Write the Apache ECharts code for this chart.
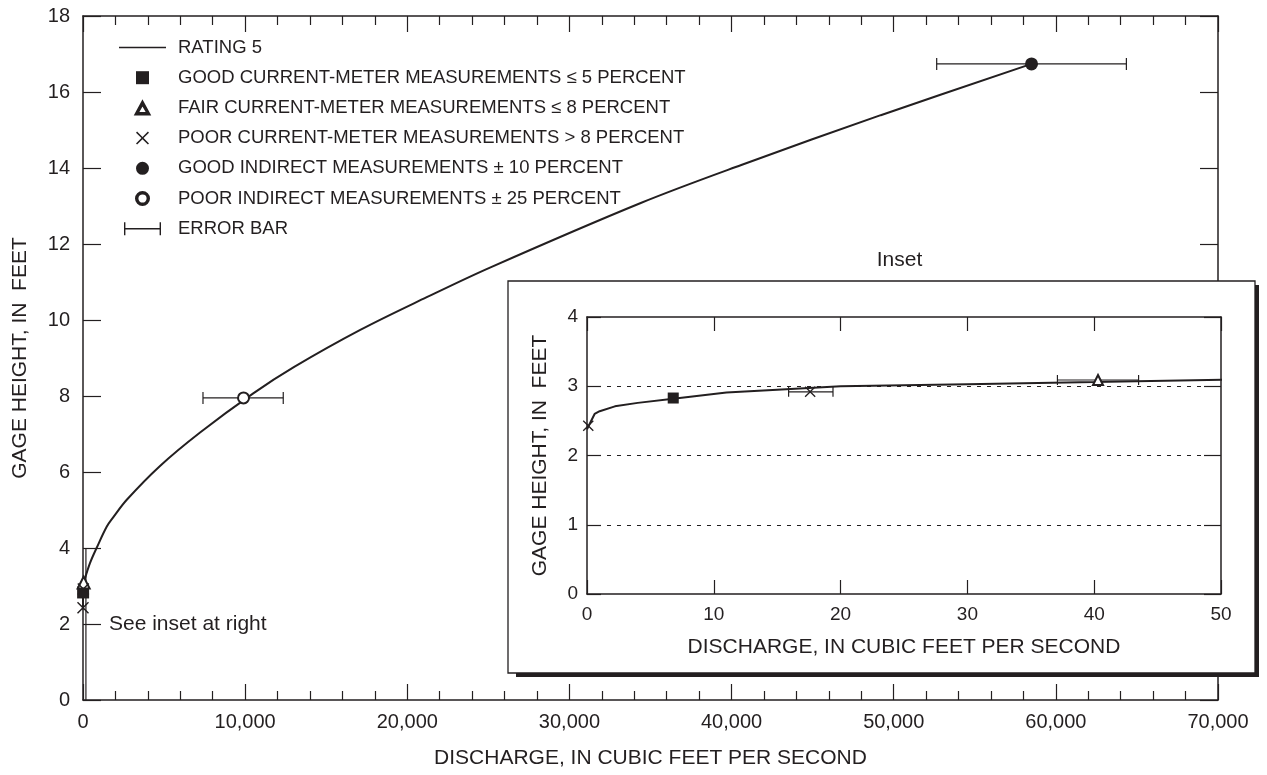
<!DOCTYPE html>
<html>
<head>
<meta charset="utf-8">
<script src="https://cdn.jsdelivr.net/npm/echarts@6/dist/echarts.min.js"></script>
<style>
html,body{margin:0;padding:0;background:#fff;}
#chart{width:1267px;height:775px;}
</style>
</head>
<body>
<div id="chart"></div>
<script>
// ---------- DATA ----------
const mainXTickLabels = ['0', '10,000', '20,000', '30,000', '40,000', '50,000', '60,000', '70,000'];
const mainYTickLabels = ['0', '2', '4', '6', '8', '10', '12', '14', '16', '18'];
const insetXTickLabels = ['0', '10', '20', '30', '40', '50'];
const insetYTickLabels = ['0', '1', '2', '3', '4'];

// Rating 5 curve: [discharge (cfs), gage height (ft)]
const rating = [
  [0, 2.38], [0.6, 2.6], [1, 2.64], [2.2, 2.71], [4, 2.76], [6.8, 2.82],
  [11, 2.91], [15, 2.95], [20, 3.0], [30, 3.03], [40, 3.06], [51.5, 3.1],
  [430, 3.6], [860, 4.02], [1460, 4.56], [1850, 4.8], [2700, 5.27],
  [4750, 6.16], [7220, 7.04], [10500, 8.07], [13000, 8.76], [17100, 9.74],
  [21200, 10.6], [25100, 11.38], [34400, 13.08], [40600, 14.08],
  [49200, 15.39], [58500, 16.74]
];
const goodCurrent = [[6.8, 2.83]];
const fairCurrent = [[40.3, 3.09]];
const poorCurrent = [[0.1, 2.43], [17.6, 2.92]];
const goodIndirect = [[58500, 16.74]];
const poorIndirect = [[9900, 7.95]];
// error bars: [low discharge, high discharge, gage height]
const errorBars = [
  [52650, 64350, 16.74], [7400, 12350, 7.95],
  [6.46, 7.14, 2.83], [15.9, 19.4, 2.92], [37.1, 43.5, 3.09]
];
// outline of inset region on main chart
const insetRegion = [[180, 0], [180, 4]];
const insetMaxQ = 52;

// ---------- STYLE ----------
const INK = '#231f20';
const FONT = 'Liberation Sans, Arial, Helvetica, sans-serif';
const NAMES = {
  rating: 'RATING 5',
  good: 'GOOD CURRENT-METER MEASUREMENTS \u2264 5 PERCENT',
  fair: 'FAIR CURRENT-METER MEASUREMENTS \u2264 8 PERCENT',
  poor: 'POOR CURRENT-METER MEASUREMENTS > 8 PERCENT',
  gind: 'GOOD INDIRECT MEASUREMENTS \u00b1 10 PERCENT',
  pind: 'POOR INDIRECT MEASUREMENTS \u00b1 25 PERCENT',
  err: 'ERROR BAR'
};
const X_PATH = 'path://M1,0L6,5L11,0L12,1L7,6L12,11L11,12L6,7L1,12L0,11L5,6L0,1Z';
const ERR_PATH = 'path://M0,0h1.4v13h-1.4zM0,5.8h37v1.4h-37zM35.6,0h1.4v13h-1.4z';
const LINE_PATH = 'path://M0,0h47v1.6h-47z';
const SQUARE_PATH = 'path://M0,0h12v12h-12z';
const TRI_PATH = 'path://M6,0L12,11L0,11ZM6,2.7L1.9,9.8L10.1,9.8Z';
const RING_PATH = 'path://M6,0A6,6 0 1,1 5.99,0ZM6,1.3A4.7,4.7 0 1,0 6.01,1.3Z';
const DOT_PATH = 'path://M6,0A6,6 0 1,1 5.99,0Z';

function errRender(cap) {
  return function (params, api) {
    const y = api.value(2);
    const a = api.coord([api.value(0), y]);
    const b = api.coord([api.value(1), y]);
    const st = { stroke: INK, lineWidth: 1.2, fill: null };
    return {
      type: 'group',
      children: [
        { type: 'line', shape: { x1: a[0], y1: a[1], x2: b[0], y2: b[1] }, style: st },
        { type: 'line', shape: { x1: a[0], y1: a[1] - cap / 2, x2: a[0], y2: a[1] + cap / 2 }, style: st },
        { type: 'line', shape: { x1: b[0], y1: b[1] - cap / 2, x2: b[0], y2: b[1] + cap / 2 }, style: st }
      ]
    };
  };
}

function axisBase(extra) {
  return Object.assign({
    type: 'value',
    axisLine: { show: true, onZero: false, lineStyle: { color: INK, width: 1.5 } },
    axisTick: { show: true, inside: true, lineStyle: { color: INK, width: 1.2 } },
    splitLine: { show: false },
    axisLabel: { color: INK, fontFamily: FONT },
    nameTextStyle: { color: INK, fontFamily: FONT, fontSize: 21 }
  }, extra);
}

const chart = echarts.init(document.getElementById('chart'), null, { renderer: 'canvas' });

const solid = { color: INK, opacity: 1 };
const hollow = { color: INK, borderColor: INK, borderWidth: 1.3, opacity: 1 };

const series = [
  // ----- main chart -----
  { type: 'line', name: NAMES.rating, xAxisIndex: 0, yAxisIndex: 0, data: rating,
    symbol: 'none', smooth: 0.35, lineStyle: { color: INK, width: 2 },
    itemStyle: solid, z: 2 },
  { type: 'line', name: 'inset region', xAxisIndex: 0, yAxisIndex: 0, data: insetRegion,
    symbol: 'none', lineStyle: { color: INK, width: 1.2 }, z: 2 },
  { type: 'custom', name: NAMES.err, xAxisIndex: 0, yAxisIndex: 0, data: errorBars,
    encode: { x: [0, 1], y: 2 }, renderItem: errRender(12), itemStyle: solid, z: 2 },
  { type: 'scatter', name: NAMES.good, xAxisIndex: 0, yAxisIndex: 0, data: goodCurrent,
    symbol: 'rect', symbolSize: 12, itemStyle: solid, z: 3 },
  { type: 'scatter', name: NAMES.fair, xAxisIndex: 0, yAxisIndex: 0, data: fairCurrent,
    symbol: 'emptyTriangle', symbolSize: 12, itemStyle: hollow, z: 3 },
  { type: 'scatter', name: NAMES.poor, xAxisIndex: 0, yAxisIndex: 0, data: poorCurrent,
    symbol: X_PATH, symbolSize: 12, itemStyle: solid, z: 3 },
  { type: 'scatter', name: NAMES.gind, xAxisIndex: 0, yAxisIndex: 0, data: goodIndirect,
    symbol: 'circle', symbolSize: 13, itemStyle: solid, z: 3 },
  { type: 'scatter', name: NAMES.pind, xAxisIndex: 0, yAxisIndex: 0, data: poorIndirect,
    symbol: 'emptyCircle', symbolSize: 11, itemStyle: hollow, z: 3 },

  // ----- inset chart -----
  { type: 'line', name: NAMES.rating, xAxisIndex: 2, yAxisIndex: 2,
    data: rating.filter(p => p[0] <= insetMaxQ),
    symbol: 'none', smooth: false, clip: false, lineStyle: { color: INK, width: 2 },
    itemStyle: solid, z: 61 },
  { type: 'custom', name: NAMES.err, xAxisIndex: 2, yAxisIndex: 2,
    data: errorBars.filter(e => e[1] <= insetMaxQ),
    encode: { x: [0, 1], y: 2 }, renderItem: errRender(10), itemStyle: solid, z: 61 },
  { type: 'scatter', name: NAMES.good, xAxisIndex: 2, yAxisIndex: 2, data: goodCurrent,
    symbol: 'rect', symbolSize: 11, itemStyle: solid, z: 62 },
  { type: 'scatter', name: NAMES.fair, xAxisIndex: 2, yAxisIndex: 2, data: fairCurrent,
    symbol: 'emptyTriangle', symbolSize: 10, itemStyle: hollow, z: 62 },
  { type: 'scatter', name: NAMES.poor, xAxisIndex: 2, yAxisIndex: 2, data: poorCurrent,
    symbol: X_PATH, symbolSize: 11, itemStyle: solid, z: 62 }
];

const option = {
  backgroundColor: '#fff',
  animation: false,
  textStyle: { fontFamily: FONT, color: INK },
  grid: [
    { left: 83, right: 49, top: 16, bottom: 75 },
    { left: 587, right: 46, top: 317, bottom: 181, z: 60 }
  ],
  legend: {
    orient: 'vertical', left: 119, top: 38, padding: 0,
    itemWidth: 47, itemHeight: 13, itemGap: 11.2,
    selectedMode: false,
    itemStyle: { opacity: 1 },
    textStyle: { color: INK, fontFamily: FONT, fontSize: 18.5, lineHeight: 18.8, padding: [0, 0, 0, 7] },
    data: [
      { name: NAMES.rating, icon: LINE_PATH },
      { name: NAMES.good, icon: SQUARE_PATH },
      { name: NAMES.fair, icon: TRI_PATH },
      { name: NAMES.poor, icon: X_PATH },
      { name: NAMES.gind, icon: DOT_PATH },
      { name: NAMES.pind, icon: RING_PATH },
      { name: NAMES.err, icon: ERR_PATH }
    ]
  },
  xAxis: [
    axisBase({ gridIndex: 0, position: 'bottom', min: 0, max: 70000, interval: 10000,
      axisTick: { show: true, inside: true, length: 16, lineStyle: { color: INK, width: 1.2 } },
      minorTick: { show: true, splitNumber: 5, length: 9, lineStyle: { color: INK, width: 1.2 } },
      axisLabel: { color: INK, fontFamily: FONT, fontSize: 20, margin: 12,
        formatter: v => mainXTickLabels[Math.round(v / 10000)] },
      name: 'DISCHARGE, IN CUBIC FEET PER SECOND', nameLocation: 'middle', nameGap: 48 }),
    axisBase({ gridIndex: 0, position: 'top', min: 0, max: 70000, interval: 10000,
      axisTick: { show: true, inside: true, length: 16, lineStyle: { color: INK, width: 1.2 } },
      minorTick: { show: true, splitNumber: 5, length: 9, lineStyle: { color: INK, width: 1.2 } },
      axisLabel: { show: false } }),
    axisBase({ gridIndex: 1, position: 'bottom', min: 0, max: 50, interval: 10, z: 60,
      axisTick: { show: true, inside: true, length: 14, lineStyle: { color: INK, width: 1.2 } },
      axisLabel: { color: INK, fontFamily: FONT, fontSize: 19, margin: 11,
        formatter: v => insetXTickLabels[Math.round(v / 10)] },
      name: 'DISCHARGE, IN CUBIC FEET PER SECOND', nameLocation: 'middle', nameGap: 43 }),
    axisBase({ gridIndex: 1, position: 'top', min: 0, max: 50, interval: 10, z: 60,
      axisTick: { show: true, inside: true, length: 14, lineStyle: { color: INK, width: 1.2 } },
      axisLabel: { show: false } })
  ],
  yAxis: [
    axisBase({ gridIndex: 0, position: 'left', min: 0, max: 18, interval: 2,
      axisTick: { show: true, inside: true, length: 18, lineStyle: { color: INK, width: 1.2 } },
      axisLabel: { color: INK, fontFamily: FONT, fontSize: 20, margin: 13,
        formatter: v => mainYTickLabels[Math.round(v / 2)] },
      name: 'GAGE HEIGHT, IN  FEET', nameLocation: 'middle', nameGap: 52, nameRotate: 90 }),
    axisBase({ gridIndex: 0, position: 'right', min: 0, max: 18, interval: 2,
      axisTick: { show: true, inside: true, length: 18, lineStyle: { color: INK, width: 1.2 } },
      axisLabel: { show: false } }),
    axisBase({ gridIndex: 1, position: 'left', min: 0, max: 4, interval: 1, z: 60,
      axisTick: { show: true, inside: true, length: 14, lineStyle: { color: INK, width: 1.2 } },
      splitLine: { show: true, showMinLine: false, showMaxLine: false,
        lineStyle: { color: INK, width: 1, type: [4, 6] } },
      axisLabel: { color: INK, fontFamily: FONT, fontSize: 19, margin: 9,
        formatter: v => insetYTickLabels[Math.round(v)] },
      name: 'GAGE HEIGHT, IN  FEET', nameLocation: 'middle', nameGap: 36, nameRotate: 90 }),
    axisBase({ gridIndex: 1, position: 'right', min: 0, max: 4, interval: 1, z: 60,
      axisTick: { show: true, inside: true, length: 17, lineStyle: { color: INK, width: 1.2 } },
      axisLabel: { show: false } })
  ],
  graphic: { elements: [
    { type: 'rect', z: 50, silent: true,
      shape: { x: 516, y: 285, width: 743, height: 392 }, style: { fill: INK } },
    { type: 'rect', z: 51, silent: true,
      shape: { x: 508, y: 281, width: 747, height: 392 },
      style: { fill: '#fff', stroke: INK, lineWidth: 1.3 } },
    { type: 'text', z: 51, x: 899.5, y: 260, silent: true,
      style: { text: 'Inset', fill: INK, fontFamily: FONT, fontSize: 21,
        align: 'center', verticalAlign: 'middle', textAlign: 'center', textVerticalAlign: 'middle' } },
    { type: 'text', z: 5, x: 109, y: 624, silent: true,
      style: { text: 'See inset at right', fill: INK, fontFamily: FONT, fontSize: 21,
        align: 'left', verticalAlign: 'middle', textAlign: 'left', textVerticalAlign: 'middle' } }
  ] },
  series: series
};

chart.setOption(option);
</script>
</body>
</html>
